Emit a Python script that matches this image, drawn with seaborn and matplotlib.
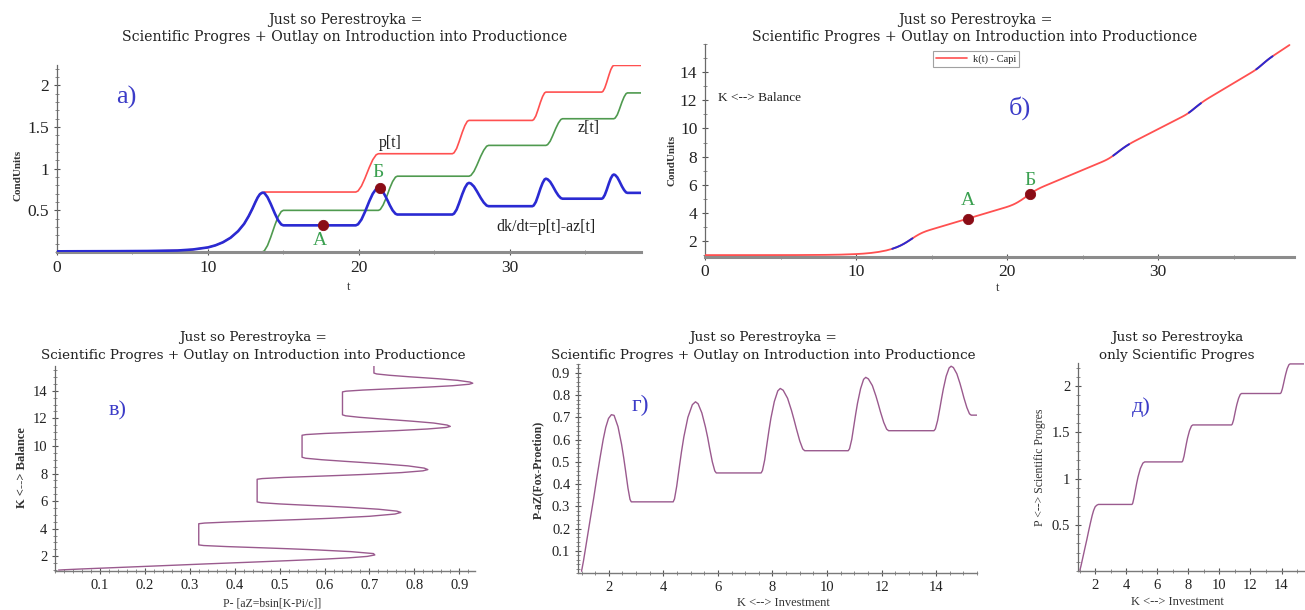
import numpy as np
import pandas as pd
import matplotlib
matplotlib.use("Agg")
import matplotlib.pyplot as plt
from matplotlib.ticker import MultipleLocator, FixedLocator, FuncFormatter
from matplotlib.lines import Line2D
import seaborn as sns

# ---------------- data ----------------
t = [0, 2, 4, 6, 8, 9, 10, 10.5, 11, 11.5, 12, 12.4, 12.7, 12.95, 13.15, 13.3, 13.45, 13.6,
     13.74, 13.95, 14.16, 14.3, 14.44, 14.65, 14.86, 15.0,
     15.8, 16.8, 17.6, 18.6, 19.8,
     19.95, 20.175, 20.4, 20.55, 20.7, 20.925, 21.15, 21.3,
     21.425, 21.61, 21.8, 21.93, 22.05, 22.24, 22.43, 22.55,
     23.5, 24.5, 25.5, 26.2,
     26.31, 26.48, 26.64, 26.75, 26.86, 27.03, 27.19, 27.3,
     27.43, 27.63, 27.82, 27.95, 28.08, 28.28, 28.47, 28.6,
     29.5, 30.5, 31.5,
     31.59, 31.73, 31.86, 31.95, 32.04, 32.18, 32.31, 32.4,
     32.51, 32.68, 32.84, 32.95, 33.06, 33.23, 33.39, 33.5,
     34.5, 35.5, 36.1,
     36.18, 36.3, 36.42, 36.5, 36.58, 36.7, 36.82, 36.9,
     36.99, 37.13, 37.26, 37.35, 37.44, 37.58, 37.71, 37.8,
     38.3, 38.7]

p = [0.008, 0.009, 0.010, 0.012, 0.018, 0.030, 0.055, 0.080, 0.117, 0.171, 0.250, 0.338, 0.430,
     0.520, 0.600, 0.655, 0.695, 0.712,
     0.720, 0.720, 0.720, 0.720, 0.720, 0.720, 0.720, 0.720,
     0.720, 0.720, 0.720, 0.720, 0.720,
     0.733, 0.792, 0.882, 0.950, 1.018, 1.108, 1.167, 1.180,
     1.180, 1.180, 1.180, 1.180, 1.180, 1.180, 1.180, 1.180,
     1.180, 1.180, 1.180, 1.180,
     1.191, 1.242, 1.321, 1.380, 1.439, 1.518, 1.569, 1.580,
     1.580, 1.580, 1.580, 1.580, 1.580, 1.580, 1.580, 1.580,
     1.580, 1.580, 1.580,
     1.590, 1.633, 1.700, 1.750, 1.800, 1.867, 1.910, 1.920,
     1.920, 1.920, 1.920, 1.920, 1.920, 1.920, 1.920, 1.920,
     1.920, 1.920, 1.920,
     1.929, 1.970, 2.033, 2.080, 2.127, 2.190, 2.231, 2.240,
     2.240, 2.240, 2.240, 2.240, 2.240, 2.240, 2.240, 2.240,
     2.240, 2.240]

z = [0, 0, 0, 0, 0, 0, 0, 0, 0, 0, 0, 0, 0, 0, 0, 0, 0, 0,
     0.014, 0.078, 0.176, 0.250, 0.324, 0.422, 0.486, 0.500,
     0.500, 0.500, 0.500, 0.500, 0.500,
     0.500, 0.500, 0.500, 0.500, 0.500, 0.500, 0.500, 0.500,
     0.511, 0.564, 0.644, 0.705, 0.766, 0.846, 0.899, 0.910,
     0.910, 0.910, 0.910, 0.910,
     0.910, 0.910, 0.910, 0.910, 0.910, 0.910, 0.910, 0.910,
     0.920, 0.968, 1.040, 1.095, 1.150, 1.222, 1.270, 1.280,
     1.280, 1.280, 1.280,
     1.280, 1.280, 1.280, 1.280, 1.280, 1.280, 1.280, 1.280,
     1.289, 1.330, 1.393, 1.440, 1.487, 1.550, 1.591, 1.600,
     1.600, 1.600, 1.600,
     1.600, 1.600, 1.600, 1.600, 1.600, 1.600, 1.600, 1.600,
     1.609, 1.648, 1.709, 1.755, 1.801, 1.862, 1.901, 1.910,
     1.910, 1.910]

dk = [0.008, 0.009, 0.010, 0.012, 0.018, 0.030, 0.055, 0.080, 0.117, 0.171, 0.250, 0.338, 0.430,
      0.520, 0.600, 0.655, 0.695, 0.712,
      0.709, 0.658, 0.579, 0.520, 0.461, 0.382, 0.331, 0.320,
      0.320, 0.320, 0.320, 0.320, 0.320,
      0.333, 0.390, 0.478, 0.545, 0.612, 0.700, 0.757, 0.770,
      0.761, 0.720, 0.657, 0.610, 0.563, 0.500, 0.459, 0.450,
      0.450, 0.450, 0.450, 0.450,
      0.461, 0.509, 0.584, 0.640, 0.696, 0.771, 0.819, 0.830,
      0.822, 0.786, 0.731, 0.690, 0.649, 0.594, 0.558, 0.550,
      0.550, 0.550, 0.550,
      0.559, 0.601, 0.666, 0.715, 0.764, 0.829, 0.871, 0.880,
      0.873, 0.843, 0.796, 0.760, 0.724, 0.677, 0.647, 0.640,
      0.640, 0.640, 0.640,
      0.648, 0.685, 0.742, 0.785, 0.828, 0.885, 0.922, 0.930,
      0.924, 0.896, 0.853, 0.820, 0.787, 0.744, 0.716, 0.710,
      0.710, 0.710]

K = [1.000, 1.000, 1.001, 1.003, 1.016, 1.034, 1.072, 1.105, 1.154, 1.225, 1.329, 1.447, 1.562,
     1.681, 1.793, 1.887, 1.988, 2.094,
     2.193, 2.337, 2.467, 2.544, 2.613, 2.702, 2.777, 2.823,
     3.079, 3.399, 3.655, 3.975, 4.359,
     4.408, 4.489, 4.587, 4.664, 4.751, 4.899, 5.063, 5.178,
     5.274, 5.411, 5.542, 5.624, 5.694, 5.795, 5.886, 5.941,
     6.369, 6.819, 7.269, 7.584,
     7.634, 7.716, 7.803, 7.870, 7.943, 8.068, 8.195, 8.286,
     8.393, 8.554, 8.698, 8.790, 8.877, 9.001, 9.110, 9.182,
     9.677, 10.227, 10.777,
     10.827, 10.908, 10.990, 11.052, 11.119, 11.231, 11.342, 11.421,
     11.517, 11.663, 11.794, 11.880, 11.962, 12.081, 12.187, 12.258,
     12.898, 13.538, 13.922,
     13.974, 14.054, 14.140, 14.201, 14.266, 14.369, 14.477, 14.551,
     14.634, 14.761, 14.875, 14.950, 15.022, 15.129, 15.224, 15.288,
     15.643, 15.927]

# t-windows where the blue curve shows through in panel б
blue_windows = [(12.4, 13.9), (27.0, 28.2), (32.0, 32.9), (36.5, 37.6)]

# marked points
pts_a_t = [17.6, 21.4]
pts_a_v = [0.32, 0.765]
pts_b_t = [17.4, 21.5]
pts_b_v = [3.59, 5.32]
pt_names = ["А", "Б"]

title1 = "Just so Perestroyka ="
title2 = "Scientific Progres + Outlay on Introduction into Productionce"

df = pd.DataFrame({"t": t, "p": p, "z": z, "dk": dk, "K": K})

# ---------------- style ----------------
sns.set_theme(style="white")
plt.rcParams['font.family'] = ['Liberation Serif', 'DejaVu Serif']
plt.rcParams['axes.unicode_minus'] = False

W, H = 1305, 610
fig = plt.figure(figsize=(W / 100, H / 100), dpi=100)
fig.patch.set_facecolor('white')

RED = "#ff5050"
GREEN = "#4f9a4f"
BLUE = "#2a2ad2"
PURPLE = "#9a5a8e"
LBLUE = "#3c3cc8"
LGREEN = "#3aa050"
DOT = "#8a0c16"
TFONT = ['DejaVu Serif']


def px_axes(l, r, top, bot):
    return fig.add_axes([l / W, 1 - bot / H, (r - l) / W, (bot - top) / H])


def style(ax, bottom_lw=1.0, bottom_color='#7a7a7a', lsize=11.5):
    for s in ['top', 'right']:
        ax.spines[s].set_visible(False)
    ax.spines['left'].set_color('#6a6a6a')
    ax.spines['left'].set_linewidth(0.9)
    ax.spines['bottom'].set_color(bottom_color)
    ax.spines['bottom'].set_linewidth(bottom_lw)
    ax.tick_params(which='major', direction='inout', length=5, width=0.8,
                   color='#555555', labelsize=lsize, pad=3, bottom=True, left=True,
                   labelcolor='#222222')
    ax.tick_params(which='minor', direction='inout', length=3, width=0.6,
                   color='#777777', bottom=True, left=True)
    ax.set_facecolor('white')
    ax.grid(False)
    ax.set_xlabel("")
    ax.set_ylabel("")


def ftext(x, y, s, **kw):
    fig.text(x / W, 1 - y / H, s, **kw)


def titles(cx, y1, y2, l1, l2, size):
    ftext(cx, y1, l1, ha='center', va='center', fontsize=size, family=TFONT, color='#222222')
    ftext(cx, y2, l2, ha='center', va='center', fontsize=size, family=TFONT, color='#222222')


g_fmt = FuncFormatter(lambda v, _: f"{v:g}")
f1_fmt = FuncFormatter(lambda v, _: f"{v:.1f}")

# ---------------- panel а ----------------
axA = px_axes(57, 641, 64.6, 252)
sns.lineplot(data=df, x="t", y="z", color=GREEN, linewidth=1.2, ax=axA, sort=False, estimator=None, zorder=2)
sns.lineplot(data=df, x="t", y="p", color=RED, linewidth=1.2, ax=axA, sort=False, estimator=None, zorder=2)
sns.lineplot(data=df, x="t", y="dk", color=BLUE, linewidth=1.9, ax=axA, sort=False, estimator=None, zorder=3)
sns.scatterplot(x=pts_a_t, y=pts_a_v, color=DOT, s=55, ax=axA, zorder=5, edgecolor=DOT)
axA.set_xlim(0, 38.7)
axA.set_ylim(0, 2.25)
style(axA, bottom_lw=2.2, bottom_color='#8c8c8c', lsize=12.5)
axA.xaxis.set_major_locator(FixedLocator([0, 10, 20, 30]))
axA.xaxis.set_minor_locator(MultipleLocator(5))
axA.yaxis.set_major_locator(FixedLocator([0.5, 1, 1.5, 2]))
axA.yaxis.set_major_formatter(g_fmt)
axA.yaxis.set_minor_locator(MultipleLocator(0.1))
axA.text(22.05, 1.31, "p[t]", ha='center', va='center', fontsize=11.5, color='#222222')
axA.text(35.2, 1.49, "z[t]", ha='center', va='center', fontsize=11.5, color='#222222')
axA.text(32.4, 0.30, "dk/dt=p[t]-az[t]", ha='center', va='center', fontsize=11.5, color='#222222')
axA.text(17.4, 0.14, pt_names[0], ha='center', va='center', fontsize=14, color=LGREEN)
axA.text(21.3, 0.96, pt_names[1], ha='center', va='center', fontsize=14, color=LGREEN)
axA.text(4.6, 1.86, "а)", ha='center', va='center', fontsize=19, color=LBLUE)
titles(345, 20, 37, title1, title2, 10.2)
ftext(18, 175, "CondUnits", rotation=90, ha='center', va='center', fontsize=8, fontweight='bold', color='#333333')
ftext(349, 287, "t", ha='center', va='center', fontsize=9, color='#333333')

# ---------------- panel б ----------------
axB = px_axes(705, 1294, 44, 256.5)
sns.lineplot(data=df, x="t", y="K", color=RED, linewidth=1.3, ax=axB, sort=False,
             estimator=None, label="k(t) - Capi", zorder=3)
for (a0, a1) in blue_windows:
    seg = df[(df["t"] >= a0) & (df["t"] <= a1)]
    sns.lineplot(data=seg, x="t", y="K", color=BLUE, linewidth=1.4, ax=axB, sort=False,
                 estimator=None, zorder=4, legend=False)
sns.scatterplot(x=pts_b_t, y=pts_b_v, color=DOT, s=55, ax=axB, zorder=5, edgecolor=DOT, legend=False)
axB.set_xlim(0, 39)
axB.set_ylim(0.9, 16.0)
style(axB, bottom_lw=2.2, bottom_color='#8c8c8c', lsize=12.5)
axB.xaxis.set_major_locator(FixedLocator([0, 10, 20, 30]))
axB.xaxis.set_minor_locator(MultipleLocator(5))
axB.yaxis.set_major_locator(FixedLocator([2, 4, 6, 8, 10, 12, 14]))
axB.yaxis.set_minor_locator(MultipleLocator(1))
leg = axB.legend(handles=[Line2D([0], [0], color=RED, lw=1.2)], labels=["k(t) - Capi"],
                 loc='upper left', bbox_to_anchor=(0.387, 0.965), fontsize=7.5,
                 frameon=True, fancybox=False, edgecolor='#8a8a8a', handlelength=3.0,
                 borderpad=0.3, handletextpad=0.5, borderaxespad=0)
leg.get_frame().set_linewidth(0.8)
axB.text(17.4, 4.9, pt_names[0], ha='center', va='center', fontsize=14, color=LGREEN)
axB.text(21.5, 6.3, pt_names[1], ha='center', va='center', fontsize=14, color=LGREEN)
axB.text(0.022, 0.746, "K <--> Balance", transform=axB.transAxes, ha='left', va='center',
         fontsize=9.5, color='#222222')
axB.text(0.535, 0.70, "б)", transform=axB.transAxes, ha='center', va='center',
         fontsize=19, color=LBLUE)
titles(975, 20, 37, title1, title2, 10.2)
ftext(672, 160, "CondUnits", rotation=90, ha='center', va='center', fontsize=8, fontweight='bold', color='#333333')
ftext(998, 288, "t", ha='center', va='center', fontsize=9, color='#333333')

# ---------------- panel в ----------------
axV = px_axes(55, 475, 366, 571)
sns.lineplot(data=df, x="dk", y="K", color=PURPLE, linewidth=1.0, ax=axV, sort=False, estimator=None)
axV.set_xlim(0.0, 0.935)
axV.set_ylim(0.93, 15.8)
style(axV, lsize=10.5)
axV.xaxis.set_major_locator(FixedLocator([0.1, 0.2, 0.3, 0.4, 0.5, 0.6, 0.7, 0.8, 0.9]))
axV.xaxis.set_major_formatter(f1_fmt)
axV.xaxis.set_minor_locator(MultipleLocator(0.02))
axV.yaxis.set_major_locator(FixedLocator([2, 4, 6, 8, 10, 12, 14]))
axV.yaxis.set_minor_locator(MultipleLocator(0.5))
axV.text(0.15, 0.78, "в)", transform=axV.transAxes, ha='center', va='center', fontsize=16, color=LBLUE)
titles(253, 337, 355, title1, title2, 9.7)
ftext(22, 468, "K <--> Balance", rotation=90, ha='center', va='center', fontsize=9, fontweight='bold', color='#333333')
ftext(272, 603, "P- [aZ=bsin[K-Pi/c]]", ha='center', va='center', fontsize=8.5, color='#333333')

# ---------------- panel г ----------------
axG = px_axes(578, 977, 364, 573)
sns.lineplot(data=df, x="K", y="dk", color=PURPLE, linewidth=1.0, ax=axG, sort=False, estimator=None)
axG.set_xlim(0.87, 15.5)
axG.set_ylim(0, 0.94)
style(axG, lsize=10.5)
axG.xaxis.set_major_locator(FixedLocator([2, 4, 6, 8, 10, 12, 14]))
axG.xaxis.set_minor_locator(MultipleLocator(0.5))
axG.yaxis.set_major_locator(FixedLocator([0.1, 0.2, 0.3, 0.4, 0.5, 0.6, 0.7, 0.8, 0.9]))
axG.yaxis.set_major_formatter(f1_fmt)
axG.yaxis.set_minor_locator(MultipleLocator(0.02))
axG.text(0.155, 0.80, "г)", transform=axG.transAxes, ha='center', va='center', fontsize=17, color=LBLUE)
titles(763, 337, 355, title1, title2, 9.7)
ftext(538, 470, "P-aZ(Fox-Proetion)", rotation=90, ha='center', va='center', fontsize=8.5, fontweight='bold', color='#333333')
ftext(783, 603, "K <--> Investment", ha='center', va='center', fontsize=9, color='#333333')

# ---------------- panel д ----------------
axD = px_axes(1078, 1304, 363, 571)
sns.lineplot(data=df, x="K", y="p", color=PURPLE, linewidth=1.0, ax=axD, sort=False, estimator=None)
axD.set_xlim(0.88, 15.45)
axD.set_ylim(0, 2.25)
style(axD, lsize=10.5)
axD.xaxis.set_major_locator(FixedLocator([2, 4, 6, 8, 10, 12, 14]))
axD.xaxis.set_minor_locator(MultipleLocator(1))
axD.yaxis.set_major_locator(FixedLocator([0.5, 1, 1.5, 2]))
axD.yaxis.set_major_formatter(g_fmt)
axD.yaxis.set_minor_locator(MultipleLocator(0.1))
axD.text(0.28, 0.79, "д)", transform=axD.transAxes, ha='center', va='center', fontsize=16, color=LBLUE)
titles(1177, 337, 355, "Just so Perestroyka", "only Scientific Progres", 9.7)
ftext(1040, 467, "P <--> Scientific Progres", rotation=90, ha='center', va='center', fontsize=8.5, color='#333333')
ftext(1177, 602, "K <--> Investment", ha='center', va='center', fontsize=9, color='#333333')

fig.savefig("out.png", dpi=100, facecolor='white')
